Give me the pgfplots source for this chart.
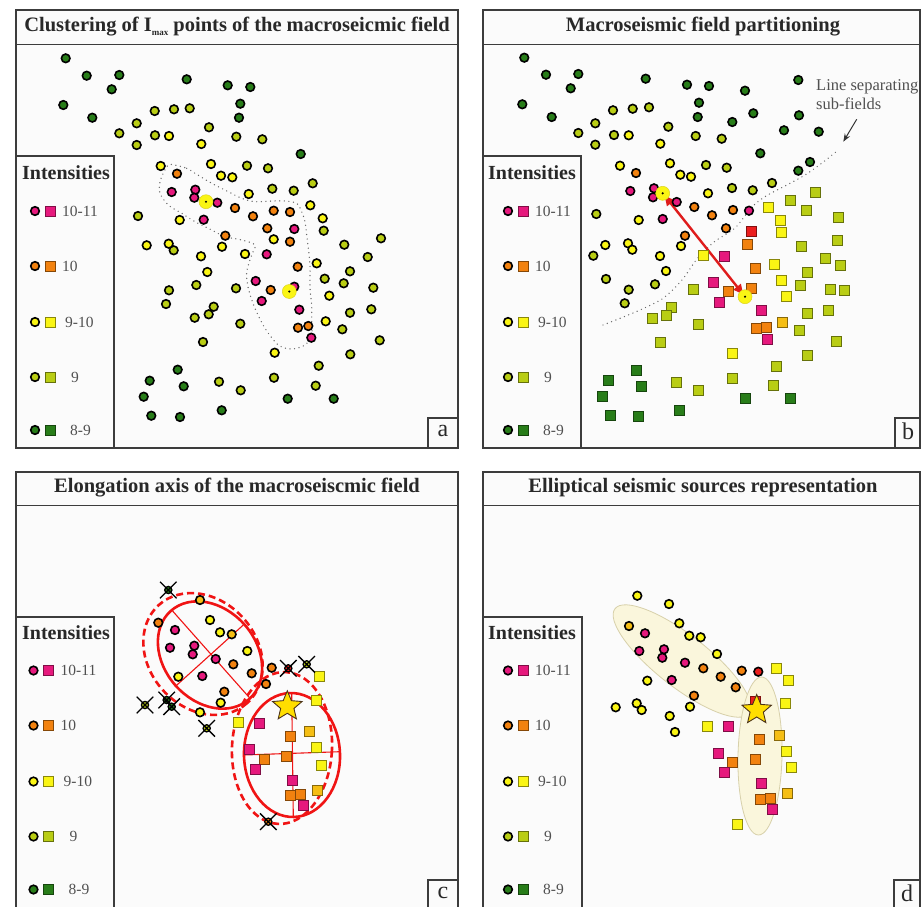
\documentclass[border=0pt]{standalone}
\usepackage{fontspec}
\setmainfont{Liberation Serif}
\usepackage{pgfplots}
\usepackage{pgfplotstable}
\pgfplotsset{compat=1.18}
\usetikzlibrary{arrows.meta}

\definecolor{cMag}{RGB}{230,25,125}
\definecolor{cOra}{RGB}{242,130,15}
\definecolor{cYel}{RGB}{250,245,20}
\definecolor{cLim}{RGB}{185,205,20}
\definecolor{cGrn}{RGB}{40,125,25}
\definecolor{cRed}{RGB}{235,30,30}
\definecolor{cAmb}{RGB}{245,190,20}
\definecolor{cStar}{RGB}{255,222,0}
\definecolor{cFrame}{RGB}{60,60,60}
\definecolor{cBg}{RGB}{251,251,251}
\definecolor{cTitle}{RGB}{40,40,40}
\definecolor{cTxt}{RGB}{80,80,80}
\definecolor{cEll}{RGB}{240,20,20}
\definecolor{cCream}{RGB}{250,246,220}
\definecolor{cCreamLine}{RGB}{215,208,170}

% marks: halo = Imax point, xo = rejected point, fstar = epicentre
\pgfdeclareplotmark{halo}{%
  \pgfpathcircle{\pgfpointorigin}{\pgfplotmarksize}\pgfusepathqfillstroke
  \pgfscope\pgfsetfillcolor{black}%
  \pgfpathcircle{\pgfpointorigin}{1.2pt}\pgfusepathqfill\endpgfscope}
\pgfdeclareplotmark{xo}{%
  \pgfpathcircle{\pgfpointorigin}{\pgfplotmarksize}\pgfusepathqfillstroke
  \pgfpathmoveto{\pgfpoint{-2.3\pgfplotmarksize}{-2.3\pgfplotmarksize}}%
  \pgfpathlineto{\pgfpoint{2.3\pgfplotmarksize}{2.3\pgfplotmarksize}}%
  \pgfpathmoveto{\pgfpoint{-2.3\pgfplotmarksize}{2.3\pgfplotmarksize}}%
  \pgfpathlineto{\pgfpoint{2.3\pgfplotmarksize}{-2.3\pgfplotmarksize}}%
  \pgfusepathqstroke}
\pgfdeclareplotmark{fstar}{%
  \pgfpathmoveto{\pgfpointpolar{90}{\pgfplotmarksize}}%
  \pgfpathlineto{\pgfpointpolar{126}{0.45\pgfplotmarksize}}%
  \pgfpathlineto{\pgfpointpolar{162}{\pgfplotmarksize}}%
  \pgfpathlineto{\pgfpointpolar{198}{0.45\pgfplotmarksize}}%
  \pgfpathlineto{\pgfpointpolar{234}{\pgfplotmarksize}}%
  \pgfpathlineto{\pgfpointpolar{270}{0.45\pgfplotmarksize}}%
  \pgfpathlineto{\pgfpointpolar{306}{\pgfplotmarksize}}%
  \pgfpathlineto{\pgfpointpolar{342}{0.45\pgfplotmarksize}}%
  \pgfpathlineto{\pgfpointpolar{18}{\pgfplotmarksize}}%
  \pgfpathlineto{\pgfpointpolar{54}{0.45\pgfplotmarksize}}%
  \pgfpathclose\pgfusepathqfillstroke}

\tikzset{
  cc/.style={mark=*, mark size=4.3pt, line width=1.6pt, draw=black, fill=#1},
  sq/.style={mark=square*, mark size=5pt, line width=0.6pt, draw=#1!55!black, fill=#1},
  xc/.style={mark=xo, mark size=3.6pt, line width=1.3pt, draw=black, fill=#1},
  ttl/.style={font=\bfseries\fontsize{20.5}{24}\selectfont, text=cTitle, inner sep=0pt},
  lab/.style={anchor=west, font=\fontsize{15.5}{18}\selectfont, text=cTxt, inner sep=0pt},
  frm/.style={draw=cFrame, line width=1.4pt},
  dotl/.style={draw=black!60, line width=1.4pt, line cap=round, dash pattern=on 0pt off 4.6pt},
}

\pgfplotsset{
  panel/.style={scale only axis, enlargelimits=false, y dir=reverse,
    xtick=\empty, ytick=\empty, anchor=center, clip=false,
    axis line style={draw=cFrame, line width=1.4pt},
    axis background/.style={fill=cBg}},
  dots/.style={scatter, only marks, line width=1.5pt, scatter src=explicit symbolic,
    scatter/classes={
      m={cc=cMag}, o={cc=cOra}, y={cc=cYel}, l={cc=cLim}, g={cc=cGrn}, r={cc=cRed}, a={cc=cAmb},
      M={sq=cMag}, O={sq=cOra}, Y={sq=cYel}, L={sq=cLim}, G={sq=cGrn}, R={sq=cRed}, A={sq=cAmb},
      Xg={xc=cGrn}, Xl={xc=cLim}, Xr={xc=cRed}, Xo={xc=cOra}}},
  imax/.style={only marks, mark=halo, mark size=7pt,
    mark options={fill=cYel, draw=yellow!85!black, line width=0.5pt}},
  epi/.style={only marks, mark=fstar, mark size=15.5pt,
    mark options={fill=cStar, draw=black!60!brown, line width=0.9pt}},
}

% legend markers, positions of panel a (pixels)
\pgfplotstableread{
x y c
35 211 m
50 211 M
35 266 o
50 266 O
35 322 y
50 322 Y
35 377 l
50 377 L
35 430 g
50 430 G
}\legtab

% a: Imax clustering
\pgfplotstableread{
x y c
65.7 58.3 g
86.7 75.7 g
119.3 75.0 g
111.7 89.3 g
63.3 105.0 g
92.3 117.7 g
186.7 79.3 g
227.7 85.3 g
250.3 87.0 g
240.3 103.7 g
239.0 117.7 g
300.7 154.0 g
177.7 369.7 g
149.7 380.7 g
183.7 386.3 g
143.7 396.7 g
287.7 398.7 g
333.7 398.7 g
151.3 415.7 g
180.0 417.0 g
221.7 410.3 g
154.7 111.0 l
174.0 109.3 l
189.7 108.3 l
136.7 123.3 l
119.3 133.3 l
155.0 135.3 l
209.0 127.3 l
236.3 136.7 l
262.3 139.3 l
136.7 145.0 l
247.0 165.7 l
268.0 168.3 l
272.3 188.7 l
293.7 190.7 l
312.7 183.3 l
138.0 216.0 l
323.7 230.7 l
173.7 250.3 l
344.3 244.7 l
381.0 238.3 l
367.7 257.0 l
350.0 271.3 l
324.7 278.7 l
343.7 283.3 l
373.3 287.7 l
169.0 290.3 l
196.3 285.0 l
236.0 288.3 l
166.0 304.0 l
213.7 306.7 l
208.7 314.3 l
194.7 317.7 l
350.0 312.7 l
371.3 309.3 l
240.3 323.7 l
342.3 329.3 l
379.7 340.3 l
203.0 342.0 l
350.3 354.3 l
318.7 365.7 l
219.0 381.7 l
274.0 377.7 l
240.7 390.3 l
315.7 385.7 l
169.0 136.0 y
201.3 144.0 y
160.7 166.0 y
211.0 164.0 y
221.0 175.7 y
232.3 177.3 y
248.7 194.0 y
310.3 205.3 y
322.7 218.3 y
179.7 220.0 y
273.7 239.3 y
146.7 245.3 y
168.7 243.7 y
222.0 246.7 y
201.0 256.3 y
245.0 254.0 y
316.7 263.3 y
207.3 272.0 y
329.3 295.7 y
325.7 321.3 y
274.7 352.7 y
177.0 173.7 o
235.0 208.0 o
253.0 216.3 o
273.7 210.7 o
290.0 212.0 o
267.3 228.3 o
225.3 235.7 o
290.0 241.7 o
297.7 266.7 o
270.7 290.0 o
298.0 327.7 o
308.3 326.0 o
171.7 192.0 m
195.3 189.7 m
194.3 197.7 m
217.3 202.7 m
203.7 219.7 m
294.3 229.0 m
266.7 254.3 m
255.7 281.0 m
294.3 286.7 m
261.7 301.0 m
299.3 309.7 m
311.3 337.7 m
}\tabA

% b: partitioning (squares = second sub-field)
\pgfplotstableread{
x y c
524.3 57.7 g
546.0 74.7 g
578.3 74.0 g
570.7 88.3 g
522.3 104.3 g
551.7 117.0 g
645.7 78.7 g
687.0 84.7 g
709.0 86.0 g
745.0 90.7 g
798.3 80.0 g
699.0 102.7 g
697.7 117.0 g
732.3 122.0 g
753.3 113.3 g
799.0 115.3 g
784.0 130.3 g
818.7 131.7 g
760.3 153.3 g
798.3 170.7 g
810.0 162.0 g
613.0 110.3 l
632.7 108.7 l
649.0 107.3 l
595.3 123.3 l
578.3 133.0 l
614.0 135.0 l
668.3 126.7 l
695.7 136.0 l
721.7 138.7 l
595.3 144.7 l
706.0 165.0 l
726.7 167.7 l
732.0 188.0 l
752.7 190.3 l
772.0 183.0 l
596.3 214.0 l
593.3 255.7 l
606.0 279.0 l
628.7 289.7 l
655.0 284.3 l
624.7 303.3 l
628.7 135.3 y
660.3 143.7 y
620.0 165.7 y
670.0 163.3 y
680.3 174.7 y
691.0 176.7 y
708.0 193.3 y
638.7 220.0 y
605.3 245.0 y
628.0 243.3 y
632.3 249.7 y
681.0 246.0 y
660.0 256.0 y
666.0 271.0 y
636.0 173.0 o
694.3 207.0 o
712.0 215.3 o
733.0 210.0 o
726.0 228.3 o
685.0 235.7 o
630.3 191.0 m
654.0 188.3 m
653.0 197.3 m
676.7 202.0 m
662.7 219.0 m
749.0 210.7 m
768.0 207.7 Y
790.0 200.7 L
815.0 192.3 L
806.0 210.3 L
780.0 220.0 Y
838.3 217.3 L
751.7 231.0 R
781.0 232.3 Y
747.7 244.0 O
801.0 246.7 L
837.3 240.3 L
703.0 255.7 Y
724.3 256.0 M
825.0 258.7 L
755.0 268.3 O
774.0 264.7 Y
807.0 272.7 L
840.0 265.7 L
781.7 280.0 Y
800.7 285.0 L
830.0 289.3 L
844.0 290.7 L
693.7 289.7 L
713.7 282.3 M
728.3 291.7 O
751.0 288.3 O
719.3 302.0 M
786.3 296.7 Y
671.7 307.3 L
666.7 315.0 L
652.7 318.7 L
761.0 310.7 M
807.0 313.7 L
828.3 310.7 L
698.0 324.3 L
782.7 322.3 A
756.0 328.7 O
766.0 327.0 O
799.3 330.3 L
767.0 339.7 M
836.3 341.0 L
660.7 342.3 L
732.7 353.0 Y
807.7 355.0 L
776.3 366.0 L
636.0 370.0 G
608.3 380.7 G
641.7 386.3 G
676.7 382.0 L
732.0 378.0 L
698.7 390.3 L
773.3 385.7 L
602.3 396.7 G
745.3 398.7 G
790.7 398.3 G
610.0 415.3 G
638.7 416.7 G
679.7 410.3 G
}\tabB

% c: elongation axes
\pgfplotstableread{
x y c
200.0 600.0 a
158.3 622.7 o
210.0 620.0 y
220.0 632.3 y
231.7 634.3 a
175.0 630.0 m
170.0 647.7 m
194.3 645.7 m
192.7 654.3 m
215.7 659.0 m
247.3 651.0 y
233.3 664.3 o
251.7 673.3 o
271.7 667.7 o
178.3 676.7 y
202.3 676.0 m
266.0 684.0 o
224.3 691.7 o
220.7 702.7 y
200.0 712.3 y
319.3 676.7 Y
316.0 700.0 Y
238.3 722.7 Y
259.0 723.3 M
290.7 736.0 O
309.3 731.7 A
316.7 747.7 Y
249.0 749.0 M
264.0 759.0 O
286.7 756.7 O
255.0 769.3 M
321.7 765.0 Y
292.7 780.0 M
317.7 790.0 A
290.7 795.7 O
300.7 794.3 O
303.3 805.0 M
168.3 590.0 Xg
145.0 705.0 Xl
166.7 700.0 Xg
171.7 706.7 Xg
206.7 728.3 Xl
288.3 668.3 Xr
306.7 664.3 Xl
268.3 821.7 Xo
}\tabC

% d: elliptical sources
\pgfplotstableread{
x y c
637.3 595.7 y
669.0 604.0 y
629.0 626.0 a
679.3 623.3 y
689.3 635.7 y
700.7 637.3 y
645.0 633.3 m
639.3 651.0 m
664.0 649.3 m
662.3 657.7 m
685.0 662.7 m
717.0 654.0 y
703.3 668.3 o
720.7 676.7 o
741.7 670.7 o
758.3 671.7 r
647.3 680.7 y
671.7 680.0 m
735.7 687.3 o
694.0 695.7 o
690.0 706.7 y
615.7 707.3 y
636.7 703.3 y
641.7 710.0 y
669.7 716.0 y
675.0 732.0 y
776.7 668.3 Y
788.3 680.7 Y
785.0 703.3 Y
755.0 701.0 R
707.7 726.0 Y
728.3 726.7 M
759.7 739.3 O
779.0 735.7 A
786.7 751.0 Y
718.3 753.3 M
732.7 762.7 O
755.7 759.3 O
724.3 772.7 M
791.3 767.7 Y
761.7 783.3 M
787.3 793.3 A
760.0 799.3 O
770.3 798.0 O
772.7 809.3 M
737.3 824.0 Y
}\tabD

% intensity legend: #1 x shift, #2 y shift, #3 x shift of heading
\newcommand\intleg[3]{%
  \node[ttl, font=\bfseries\fontsize{20}{24}\selectfont] at ({66+#3},{173+#2}) {Intensities};
  \node[lab] at ({62+#1},{211+#2}) {10-11};
  \node[lab] at ({62+#1},{266+#2}) {10};
  \node[lab] at ({65+#1},{322+#2}) {9-10};
  \node[lab] at ({71+#1},{377+#2}) {9};
  \node[lab] at ({70+#1},{430+#2}) {8-9};
  \addplot[dots] table[x expr=\thisrow{x}+#1, y expr=\thisrow{y}+#2, meta=c] {\legtab};
}

\begin{document}
\begin{tikzpicture}
\useasboundingbox (0pt,0pt) rectangle (921pt,-907pt);

% ---------------- a ----------------
\begin{axis}[panel, at={(237pt,-229pt)}, width=442pt, height=438pt,
  xmin=16, xmax=458, ymin=10, ymax=448]
  \draw[frm] (16,44.3) -- (458,44.3);
  \node[ttl] at (237,27) {Clustering of I\raisebox{-0.4ex}{\fontsize{9}{10}\selectfont max} points of the macroseicmic field};
  \draw[dotl] plot[smooth cycle] coordinates {(170,164.3) (186.7,168.3) (195,173.3) (211.7,183.3)
    (228.3,191.7) (241.7,198.3) (255,201.7) (271.7,201) (285,201) (296.7,203.3) (301.7,211.7)
    (305,221.7) (306.7,235) (308.3,248.3) (310,265) (310,288.3) (311.7,305) (311.7,321.7)
    (311.7,335) (305,345) (291.7,349) (278.3,345) (265,328.3) (255,308.3) (248.3,288.3)
    (246.7,271.7) (251.7,255) (255,245) (241.7,240) (225,236.7) (211.7,230) (195,221.7)
    (181.7,213.3) (168.3,205) (160,193.3) (160,181.7) (165,170)};
  \addplot[dots] table[meta=c] {\tabA};
  \addplot[imax] coordinates {(206,201.7) (289.3,291.5)};
  \draw[frm] (16,156) rectangle (114,448);
  \intleg{0}{0}{0}
  \draw[frm] (428,418) rectangle (458,448);
  \node[font=\fontsize{24}{24}\selectfont, text=cTitle] at (443,431) {a};
\end{axis}

% ---------------- b ----------------
\begin{axis}[panel, at={(701.5pt,-229pt)}, width=437pt, height=438pt,
  xmin=483, xmax=920, ymin=10, ymax=448]
  \draw[frm] (483,44.3) -- (920,44.3);
  \node[ttl] at (703,27) {Macroseismic field partitioning};
  \draw[dotl] plot[smooth] coordinates {(603,325) (633,313) (662,299) (682,280) (697,259)
    (714,242) (735,228) (752,207) (766,196) (785,186) (805,175) (822,163) (837,151)};
  \addplot[dots] table[meta=c] {\tabB};
  \addplot[imax] coordinates {(662.7,193.3) (745,296.7)};
  \draw[draw=cRed!95!black, line width=2.4pt,
    {Triangle[length=10pt,width=9pt]}-{Triangle[length=10pt,width=9pt]}]
    (664.5,195.5) -- (743.3,294.5);
  \draw[black!80, line width=1pt, -{Stealth[length=8pt,width=6pt]}] (856.7,119.3) -- (843.3,141.7);
  \node[anchor=west, align=left, inner sep=0pt, text=cTxt,
    font=\fontsize{16.5}{19}\selectfont] at (816,94.5) {Line separating\\sub-fields};
  \draw[frm] (483,156) rectangle (581,448);
  \intleg{473}{0}{466}
  \draw[frm] (895,418) rectangle (920,448);
  \node[font=\fontsize{24}{24}\selectfont, text=cTitle] at (908,431) {b};
\end{axis}

% ---------------- c ----------------
\begin{axis}[panel, at={(237pt,-690pt)}, width=442pt, height=436pt,
  xmin=16, xmax=458, ymin=472, ymax=908]
  \draw[frm] (16,505.7) -- (458,505.7);
  \node[ttl] at (237,488) {Elongation axis of the macroseiscmic field};
  \addplot[dots] table[meta=c] {\tabC};
  \begin{scope}[draw=cEll]
    \draw[line width=2.6pt, dash pattern=on 7pt off 4pt, rotate around={-48:(203,654)}]
      (203,654) ellipse [x radius=66, y radius=54];
    \draw[line width=2.6pt, rotate around={-48.4:(210,655)}]
      (210,655) ellipse [x radius=59, y radius=46];
    \draw[line width=1.1pt] (171.7,610) -- (250,698.3);
    \draw[line width=1.1pt] (243.3,625) -- (175,686.7);
    \draw[line width=2.6pt, dash pattern=on 7pt off 4pt, rotate around={-3:(282,748)}]
      (282,748) ellipse [x radius=50, y radius=76];
    \draw[line width=2.6pt, rotate around={2:(292,755)}]
      (292,755) ellipse [x radius=48, y radius=62];
    \draw[line width=1.1pt] (243.3,755) -- (340,751.7);
    \draw[line width=1.1pt] (291.7,693.3) -- (293.3,816.7);
  \end{scope}
  \addplot[epi] coordinates {(287.3,706.3)};
  \draw[frm] (16,617) rectangle (114,908);
  \intleg{-1.5}{459.5}{0}
  \draw[frm] (428,880) rectangle (458,908);
  \node[font=\fontsize{24}{24}\selectfont, text=cTitle] at (443,893) {c};
\end{axis}

% ---------------- d ----------------
\begin{axis}[panel, at={(701.5pt,-690pt)}, width=437pt, height=436pt,
  xmin=483, xmax=920, ymin=472, ymax=908]
  \draw[frm] (483,505.7) -- (920,505.7);
  \node[ttl] at (703,488) {Elliptical seismic sources representation};
  \draw[fill=cCream, draw=cCreamLine, line width=0.8pt, rotate around={-38:(682,661)}]
    (682,661) ellipse [x radius=85, y radius=26];
  \draw[fill=cCream, draw=cCreamLine, line width=0.8pt, rotate around={-1.2:(760,756)}]
    (760,756) ellipse [x radius=22, y radius=79];
  \addplot[dots] table[meta=c] {\tabD};
  \addplot[epi] coordinates {(756.7,710)};
  \draw[frm] (483,617) rectangle (582,908);
  \intleg{473}{459.5}{466}
  \draw[frm] (894,880) rectangle (920,908);
  \node[font=\fontsize{24}{24}\selectfont, text=cTitle] at (907,893) {d};
\end{axis}
\end{tikzpicture}
\end{document}
